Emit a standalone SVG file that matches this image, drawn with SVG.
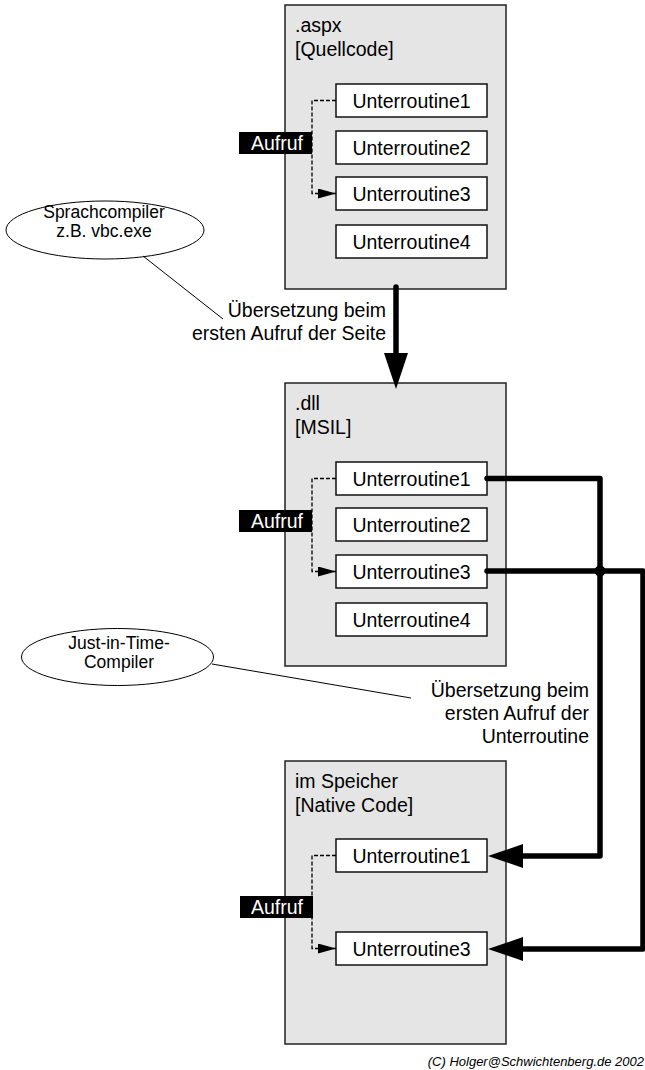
<svg xmlns="http://www.w3.org/2000/svg" width="645" height="1070" viewBox="0 0 645 1070">
<style>
  .box { fill: #e5e5e5; stroke: #222; stroke-width: 1.5; }
  .sub { fill: #fff; stroke: #111; stroke-width: 1.5; }
  .t { font-family: "Liberation Sans", Arial, sans-serif; font-size: 19.5px; fill: #000; }
  .c { text-anchor: middle; }
  .r { text-anchor: end; }
  .ell { fill: #fff; stroke: #000; stroke-width: 1; }
  .et { font-family: "Liberation Sans", Arial, sans-serif; font-size: 17.5px; fill: #000; text-anchor: middle; }
  .lbl { fill: #000; }
  .lt { font-family: "Liberation Sans", Arial, sans-serif; font-size: 19.5px; fill: #fff; text-anchor: middle; }
  .dash { fill: none; stroke: #000; stroke-width: 1.3; stroke-dasharray: 4 2; }
  .thick { fill: none; stroke: #000; stroke-width: 5.5; stroke-linecap: round; stroke-linejoin: round; }
  .thin { fill: none; stroke: #000; stroke-width: 1; }
</style>
<defs>
  <marker id="ah" markerWidth="18" markerHeight="10" refX="18" refY="5" orient="auto" markerUnits="userSpaceOnUse">
    <path d="M0,0 L18,5 L0,10 Z" fill="#000"/>
  </marker>
</defs>

<g id="box-aspx">
  <rect class="box" x="285" y="5" width="221" height="284"/>
  <text class="t" x="295" y="32">.aspx</text>
  <text class="t" x="295" y="56">[Quellcode]</text>
  <rect class="sub" x="336" y="84" width="151" height="33"/>
  <text class="t c" x="411.5" y="108">Unterroutine1</text>
  <rect class="sub" x="336" y="131" width="151" height="33"/>
  <text class="t c" x="411.5" y="155">Unterroutine2</text>
  <rect class="sub" x="336" y="177" width="151" height="33"/>
  <text class="t c" x="411.5" y="201">Unterroutine3</text>
  <rect class="sub" x="336" y="225" width="151" height="33"/>
  <text class="t c" x="411.5" y="249">Unterroutine4</text>
  <path class="dash" d="M336,100.5 H312 V193.5 H336" marker-end="url(#ah)"/>
  <rect class="lbl" x="239" y="132" width="73" height="22"/>
  <text class="lt" x="277" y="150">Aufruf</text>
</g>

<g id="box-dll">
  <rect class="box" x="285" y="383" width="221" height="283"/>
  <text class="t" x="295" y="410">.dll</text>
  <text class="t" x="295" y="434">[MSIL]</text>
  <rect class="sub" x="336" y="462" width="151" height="33"/>
  <text class="t c" x="411.5" y="486">Unterroutine1</text>
  <rect class="sub" x="336" y="508" width="151" height="33"/>
  <text class="t c" x="411.5" y="532">Unterroutine2</text>
  <rect class="sub" x="336" y="555" width="151" height="33"/>
  <text class="t c" x="411.5" y="579">Unterroutine3</text>
  <rect class="sub" x="336" y="603" width="151" height="33"/>
  <text class="t c" x="411.5" y="627">Unterroutine4</text>
  <path class="dash" d="M336,478.5 H312 V571.5 H336" marker-end="url(#ah)"/>
  <rect class="lbl" x="239" y="510" width="73" height="22"/>
  <text class="lt" x="277" y="528">Aufruf</text>
</g>

<g id="box-native">
  <rect class="box" x="285" y="761" width="221" height="283"/>
  <text class="t" x="295" y="788">im Speicher</text>
  <text class="t" x="295" y="812">[Native Code]</text>
  <rect class="sub" x="336" y="839" width="151" height="33"/>
  <text class="t c" x="411.5" y="863">Unterroutine1</text>
  <rect class="sub" x="336" y="932" width="151" height="33"/>
  <text class="t c" x="411.5" y="956">Unterroutine3</text>
  <path class="dash" d="M336,855.5 H312 V948.5 H336" marker-end="url(#ah)"/>
  <rect class="lbl" x="240" y="896" width="73" height="22"/>
  <text class="lt" x="277" y="914">Aufruf</text>
</g>

<g id="ellipse-sprachcompiler">
  <ellipse class="ell" cx="105" cy="230" rx="99" ry="29"/>
  <text class="et" x="104" y="218">Sprachcompiler</text>
  <text class="et" x="104" y="237">z.B. vbc.exe</text>
</g>

<g id="ellipse-jit">
  <ellipse class="ell" cx="117.5" cy="657" rx="96" ry="28.5"/>
  <text class="et" x="119" y="649">Just-in-Time-</text>
  <text class="et" x="119" y="668">Compiler</text>
</g>

<g id="label-seite">
  <text class="t r" x="386" y="317">Übersetzung beim</text>
  <text class="t r" x="386" y="340">ersten Aufruf der Seite</text>
</g>

<g id="label-unterroutine">
  <text class="t r" x="589" y="697">Übersetzung beim</text>
  <text class="t r" x="589" y="720">ersten Aufruf der</text>
  <text class="t r" x="589" y="743">Unterroutine</text>
</g>

<g id="connectors">
  <line class="thin" x1="143" y1="256" x2="223" y2="319"/>
  <line class="thin" x1="212" y1="664" x2="411" y2="698"/>
  <line class="thick" x1="396" y1="287" x2="396" y2="355"/>
  <polygon points="384,353 408,353 396,389" fill="#000"/>
  <path class="thick" d="M487,478.5 H600 V856 H522"/>
  <polygon points="488,856 523,844 523,868" fill="#000"/>
  <path class="thick" d="M487,571 H643 V949 H522"/>
  <polygon points="488,949 523,937 523,961" fill="#000"/>
  <circle cx="600" cy="571" r="5.5" fill="#000"/>
</g>

<text x="644" y="1066" text-anchor="end" style="font-family: 'Liberation Sans', Arial, sans-serif; font-size: 13px; font-style: italic; fill: #000;">(C) Holger@Schwichtenberg.de 2002</text>
</svg>
